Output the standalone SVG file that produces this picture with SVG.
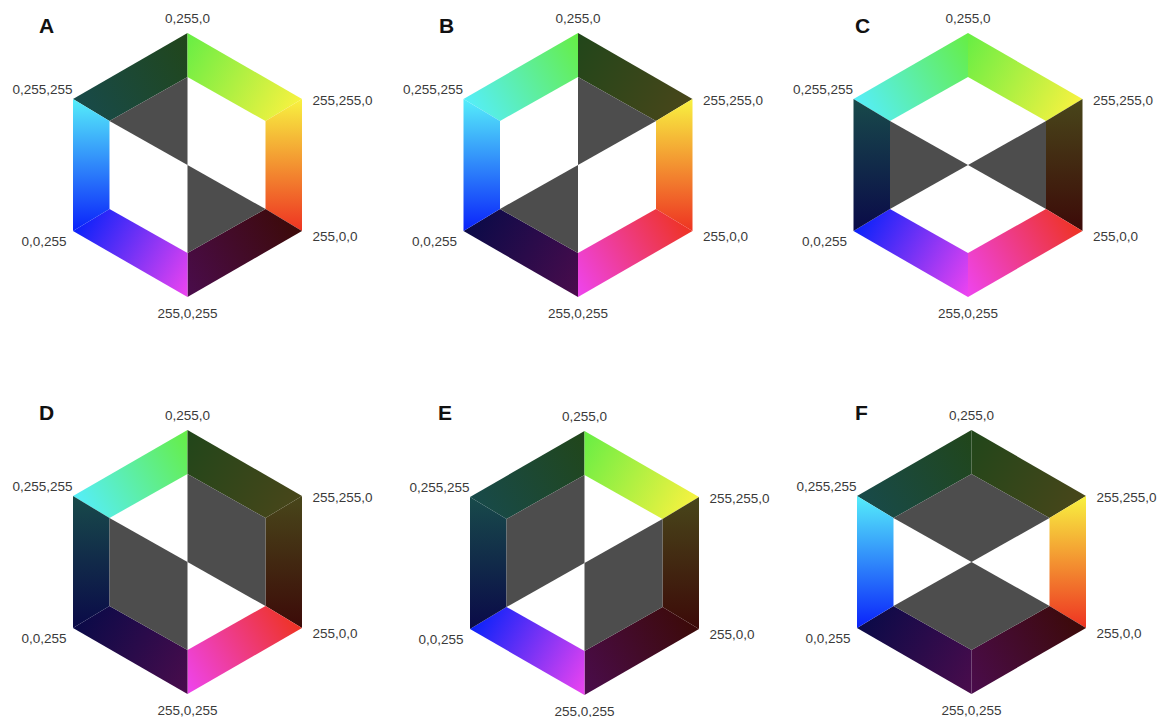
<svg xmlns="http://www.w3.org/2000/svg" width="1162" height="717" viewBox="0 0 1162 717">
<style>
.lbl{font-family:"Liberation Sans",Arial,sans-serif;font-size:13.5px;fill:#3a3a3a}
.mid{text-anchor:middle}
.end{text-anchor:end}
.ttl{font-family:"Liberation Sans",Arial,sans-serif;font-size:21px;font-weight:bold;fill:#111}
.g{fill:#4d4d4d}
.b1{fill:url(#g1)}.b2{fill:url(#g2)}.b3{fill:url(#g3)}.b4{fill:url(#g4)}.b5{fill:url(#g5)}.b6{fill:url(#g6)}
.d1{fill:url(#k1)}.d2{fill:url(#k2)}.d3{fill:url(#k3)}.d4{fill:url(#k4)}.d5{fill:url(#k5)}.d6{fill:url(#k6)}
</style>
<defs>
<linearGradient id="g1" gradientUnits="userSpaceOnUse" x1="-114.5" y1="-66" x2="0" y2="-132"><stop offset="0" stop-color="#55eefa"/><stop offset="1" stop-color="#66ee44"/></linearGradient>
<linearGradient id="g2" gradientUnits="userSpaceOnUse" x1="0" y1="-132" x2="114.5" y2="-66"><stop offset="0" stop-color="#66ee44"/><stop offset="1" stop-color="#f8f240"/></linearGradient>
<linearGradient id="g3" gradientUnits="userSpaceOnUse" x1="114.5" y1="-66" x2="114.5" y2="66"><stop offset="0" stop-color="#f8f240"/><stop offset="1" stop-color="#ee3322"/></linearGradient>
<linearGradient id="g4" gradientUnits="userSpaceOnUse" x1="114.5" y1="66" x2="0" y2="132"><stop offset="0" stop-color="#ee3322"/><stop offset="1" stop-color="#ee44f0"/></linearGradient>
<linearGradient id="g5" gradientUnits="userSpaceOnUse" x1="0" y1="132" x2="-114.5" y2="66"><stop offset="0" stop-color="#ee44f0"/><stop offset="1" stop-color="#0a22fa"/></linearGradient>
<linearGradient id="g6" gradientUnits="userSpaceOnUse" x1="-114.5" y1="66" x2="-114.5" y2="-66"><stop offset="0" stop-color="#0a22fa"/><stop offset="1" stop-color="#55eefa"/></linearGradient>
<linearGradient id="k1" gradientUnits="userSpaceOnUse" x1="-114.5" y1="-66" x2="0" y2="-132"><stop offset="0" stop-color="#184a4a"/><stop offset="1" stop-color="#21461a"/></linearGradient>
<linearGradient id="k2" gradientUnits="userSpaceOnUse" x1="0" y1="-132" x2="114.5" y2="-66"><stop offset="0" stop-color="#21461a"/><stop offset="1" stop-color="#48461a"/></linearGradient>
<linearGradient id="k3" gradientUnits="userSpaceOnUse" x1="114.5" y1="-66" x2="114.5" y2="66"><stop offset="0" stop-color="#48461a"/><stop offset="1" stop-color="#3c0a08"/></linearGradient>
<linearGradient id="k4" gradientUnits="userSpaceOnUse" x1="114.5" y1="66" x2="0" y2="132"><stop offset="0" stop-color="#3c0a08"/><stop offset="1" stop-color="#4a0c4c"/></linearGradient>
<linearGradient id="k5" gradientUnits="userSpaceOnUse" x1="0" y1="132" x2="-114.5" y2="66"><stop offset="0" stop-color="#4a0c4c"/><stop offset="1" stop-color="#0a0a48"/></linearGradient>
<linearGradient id="k6" gradientUnits="userSpaceOnUse" x1="-114.5" y1="66" x2="-114.5" y2="-66"><stop offset="0" stop-color="#0a0a48"/><stop offset="1" stop-color="#184a4a"/></linearGradient>
</defs>
<rect width="1162" height="717" fill="#fff"/>

<g id="panelA" transform="translate(187.5,165)">
<polygon class="d1" points="-114.5,-66 0,-132 0,-88 -78,-44"/>
<polygon class="b2" points="0,-132 114.5,-66 78,-44 0,-88"/>
<polygon class="b3" points="114.5,-66 114.5,66 78,44 78,-44"/>
<polygon class="d4" points="114.5,66 0,132 0,88 78,44"/>
<polygon class="b5" points="0,132 -114.5,66 -78,44 0,88"/>
<polygon class="b6" points="-114.5,66 -114.5,-66 -78,-44 -78,44"/>
<polygon class="g" points="0,0 -78,-44 0,-88"/>
<polygon class="g" points="0,0 78,44 0,88"/>
<text class="lbl mid" x="0" y="-142">0,255,0</text>
<text class="lbl end" x="-115" y="-71">0,255,255</text>
<text class="lbl" x="125" y="-60">255,255,0</text>
<text class="lbl" x="125" y="76">255,0,0</text>
<text class="lbl end" x="-121" y="81">0,0,255</text>
<text class="lbl mid" x="0" y="153">255,0,255</text>
</g>
<text id="titleA" class="ttl" x="39" y="33">A</text>

<g id="panelB" transform="translate(578,165)">
<polygon class="b1" points="-114.5,-66 0,-132 0,-88 -78,-44"/>
<polygon class="d2" points="0,-132 114.5,-66 78,-44 0,-88"/>
<polygon class="b3" points="114.5,-66 114.5,66 78,44 78,-44"/>
<polygon class="b4" points="114.5,66 0,132 0,88 78,44"/>
<polygon class="d5" points="0,132 -114.5,66 -78,44 0,88"/>
<polygon class="b6" points="-114.5,66 -114.5,-66 -78,-44 -78,44"/>
<polygon class="g" points="0,0 0,-88 78,-44"/>
<polygon class="g" points="0,0 0,88 -78,44"/>
<text class="lbl mid" x="0" y="-142">0,255,0</text>
<text class="lbl end" x="-115" y="-71">0,255,255</text>
<text class="lbl" x="125" y="-60">255,255,0</text>
<text class="lbl" x="125" y="76">255,0,0</text>
<text class="lbl end" x="-121" y="81">0,0,255</text>
<text class="lbl mid" x="0" y="153">255,0,255</text>
</g>
<text id="titleB" class="ttl" x="439" y="33">B</text>

<g id="panelC" transform="translate(968,165)">
<polygon class="b1" points="-114.5,-66 0,-132 0,-88 -78,-44"/>
<polygon class="b2" points="0,-132 114.5,-66 78,-44 0,-88"/>
<polygon class="d3" points="114.5,-66 114.5,66 78,44 78,-44"/>
<polygon class="b4" points="114.5,66 0,132 0,88 78,44"/>
<polygon class="b5" points="0,132 -114.5,66 -78,44 0,88"/>
<polygon class="d6" points="-114.5,66 -114.5,-66 -78,-44 -78,44"/>
<polygon class="g" points="0,0 78,-44 78,44"/>
<polygon class="g" points="0,0 -78,44 -78,-44"/>
<text class="lbl mid" x="0" y="-142">0,255,0</text>
<text class="lbl end" x="-115" y="-71">0,255,255</text>
<text class="lbl" x="125" y="-60">255,255,0</text>
<text class="lbl" x="125" y="76">255,0,0</text>
<text class="lbl end" x="-121" y="81">0,0,255</text>
<text class="lbl mid" x="0" y="153">255,0,255</text>
</g>
<text id="titleC" class="ttl" x="855" y="33">C</text>

<g id="panelD" transform="translate(187.5,562)">
<polygon class="b1" points="-114.5,-66 0,-132 0,-88 -78,-44"/>
<polygon class="d2" points="0,-132 114.5,-66 78,-44 0,-88"/>
<polygon class="d3" points="114.5,-66 114.5,66 78,44 78,-44"/>
<polygon class="b4" points="114.5,66 0,132 0,88 78,44"/>
<polygon class="d5" points="0,132 -114.5,66 -78,44 0,88"/>
<polygon class="d6" points="-114.5,66 -114.5,-66 -78,-44 -78,44"/>
<polygon class="g" points="0,0 0,-88 78,-44 78,44"/>
<polygon class="g" points="0,0 0,88 -78,44 -78,-44"/>
<text class="lbl mid" x="0" y="-142">0,255,0</text>
<text class="lbl end" x="-115" y="-71">0,255,255</text>
<text class="lbl" x="125" y="-60">255,255,0</text>
<text class="lbl" x="125" y="76">255,0,0</text>
<text class="lbl end" x="-121" y="81">0,0,255</text>
<text class="lbl mid" x="0" y="153">255,0,255</text>
</g>
<text id="titleD" class="ttl" x="39" y="420">D</text>

<g id="panelE" transform="translate(584.5,563)">
<polygon class="d1" points="-114.5,-66 0,-132 0,-88 -78,-44"/>
<polygon class="b2" points="0,-132 114.5,-66 78,-44 0,-88"/>
<polygon class="d3" points="114.5,-66 114.5,66 78,44 78,-44"/>
<polygon class="d4" points="114.5,66 0,132 0,88 78,44"/>
<polygon class="b5" points="0,132 -114.5,66 -78,44 0,88"/>
<polygon class="d6" points="-114.5,66 -114.5,-66 -78,-44 -78,44"/>
<polygon class="g" points="0,0 -78,44 -78,-44 0,-88"/>
<polygon class="g" points="0,0 78,-44 78,44 0,88"/>
<text class="lbl mid" x="0" y="-142">0,255,0</text>
<text class="lbl end" x="-115" y="-71">0,255,255</text>
<text class="lbl" x="125" y="-60">255,255,0</text>
<text class="lbl" x="125" y="76">255,0,0</text>
<text class="lbl end" x="-121" y="81">0,0,255</text>
<text class="lbl mid" x="0" y="153">255,0,255</text>
</g>
<text id="titleE" class="ttl" x="438" y="420">E</text>

<g id="panelF" transform="translate(971.5,562)">
<polygon class="d1" points="-114.5,-66 0,-132 0,-88 -78,-44"/>
<polygon class="d2" points="0,-132 114.5,-66 78,-44 0,-88"/>
<polygon class="b3" points="114.5,-66 114.5,66 78,44 78,-44"/>
<polygon class="d4" points="114.5,66 0,132 0,88 78,44"/>
<polygon class="d5" points="0,132 -114.5,66 -78,44 0,88"/>
<polygon class="b6" points="-114.5,66 -114.5,-66 -78,-44 -78,44"/>
<polygon class="g" points="0,0 -78,-44 0,-88 78,-44"/>
<polygon class="g" points="0,0 78,44 0,88 -78,44"/>
<text class="lbl mid" x="0" y="-142">0,255,0</text>
<text class="lbl end" x="-115" y="-71">0,255,255</text>
<text class="lbl" x="125" y="-60">255,255,0</text>
<text class="lbl" x="125" y="76">255,0,0</text>
<text class="lbl end" x="-121" y="81">0,0,255</text>
<text class="lbl mid" x="0" y="153">255,0,255</text>
</g>
<text id="titleF" class="ttl" x="855" y="420">F</text>
</svg>
